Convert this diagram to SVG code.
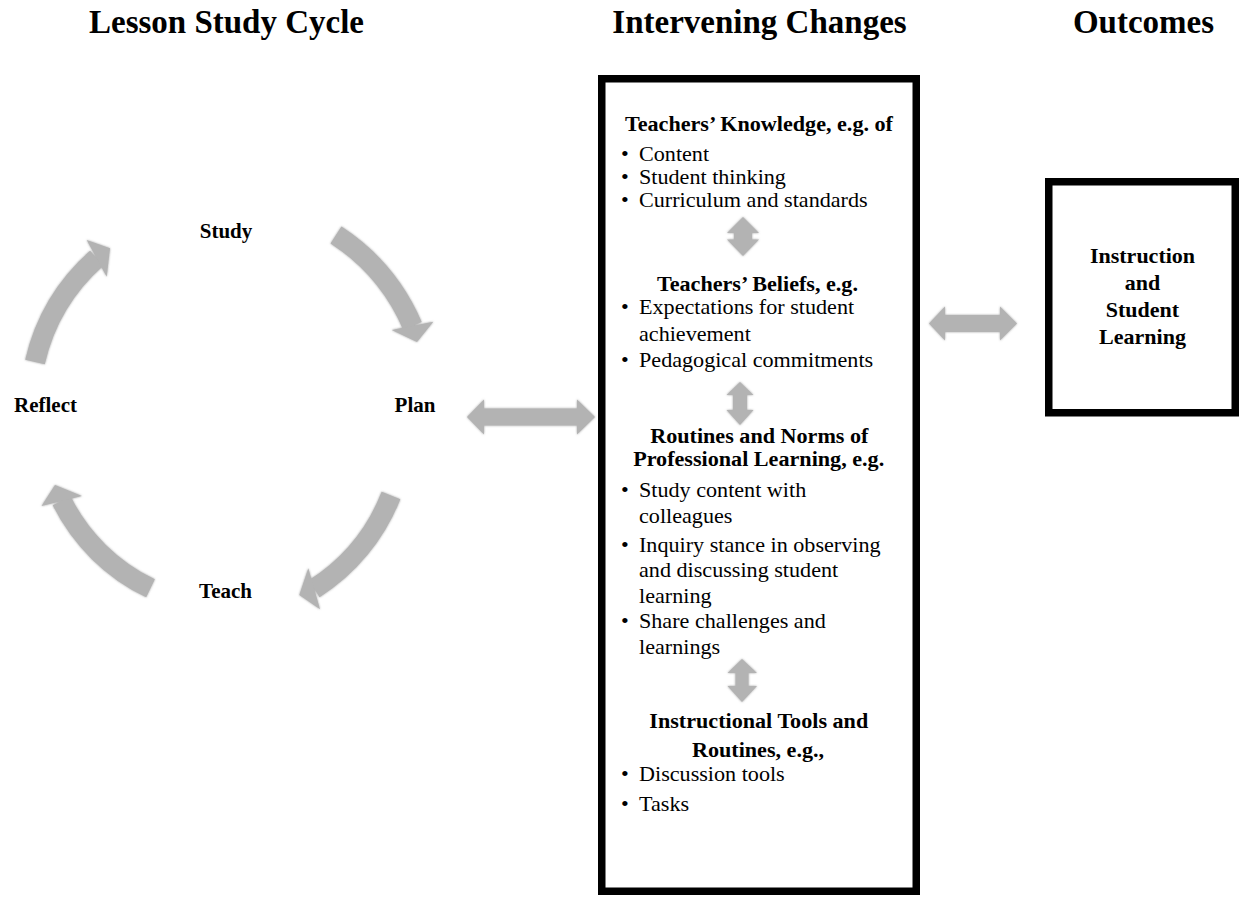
<svg xmlns="http://www.w3.org/2000/svg" width="1241" height="897" viewBox="0 0 1241 897">
<style>
.t{font-family:"Liberation Serif","Times New Roman",serif;fill:#000}
.title{font-size:33px;font-weight:bold;text-anchor:middle}
.lbl{font-size:21px;font-weight:bold;text-anchor:middle}
.h{font-size:20.5px;font-weight:bold;text-anchor:middle}
.n{font-size:20.5px}
.oh{font-size:22px;font-weight:bold;text-anchor:middle}
.box{fill:#fff;stroke:#000;stroke-width:7.5}
.band{fill:none;stroke:#b3b3b3;stroke-width:20}
.head{fill:#b3b3b3}
</style>
<defs>
<filter id="soft" x="-10%" y="-10%" width="120%" height="120%">
<feGaussianBlur in="SourceAlpha" stdDeviation="1.2" result="b"/>
<feFlood flood-color="#7a7a7a" flood-opacity="0.7"/>
<feComposite in2="b" operator="in" result="s"/>
<feMerge><feMergeNode in="s"/><feMergeNode in="SourceGraphic"/></feMerge>
</filter>
</defs>
<rect width="1241" height="897" fill="#fff"/>
<g id="titles">
<text class="t title" x="226.5" y="33">Lesson Study Cycle</text>
<text class="t title" x="759.5" y="33">Intervening Changes</text>
<text class="t title" x="1143.5" y="33">Outcomes</text>
</g>
<g id="study"><text class="t lbl" x="226" y="238">Study</text></g>
<g id="plan"><text class="t lbl" x="415" y="412">Plan</text></g>
<g id="teach"><text class="t lbl" x="225.5" y="598">Teach</text></g>
<g id="reflect"><text class="t lbl" x="45.5" y="412">Reflect</text></g>
<g id="intervening">
<rect class="box" x="601.75" y="78.75" width="314.5" height="812.5"/>
<g transform="matrix(1.08,0,0,1,-51.12,0)">
<text class="t h" x="750.1" y="131">Teachers’ Knowledge, e.g. of</text>
<text class="t n" x="622.3" y="161">•</text><text class="t n" x="639" y="161">Content</text>
<text class="t n" x="622.3" y="184">•</text><text class="t n" x="639" y="184">Student thinking</text>
<text class="t n" x="622.3" y="207">•</text><text class="t n" x="639" y="207">Curriculum and standards</text>
<text class="t h" x="748.7" y="291">Teachers’ Beliefs, e.g.</text>
<text class="t n" x="622.3" y="314.5">•</text><text class="t n" x="639" y="314.5">Expectations for student</text>
<text class="t n" x="639" y="340.7">achievement</text>
<text class="t n" x="622.3" y="366.7">•</text><text class="t n" x="639" y="366.7">Pedagogical commitments</text>
<text class="t h" x="750.4" y="443">Routines and Norms of</text>
<text class="t h" x="749.8" y="466.5">Professional Learning, e.g.</text>
<text class="t n" x="622.3" y="497.3">•</text><text class="t n" x="639" y="497.3">Study content with</text>
<text class="t n" x="639" y="523.3">colleagues</text>
<text class="t n" x="622.3" y="551.7">•</text><text class="t n" x="639" y="551.7">Inquiry stance in observing</text>
<text class="t n" x="639" y="577.3">and discussing student</text>
<text class="t n" x="639" y="603.3">learning</text>
<text class="t n" x="622.3" y="628.3">•</text><text class="t n" x="639" y="628.3">Share challenges and</text>
<text class="t n" x="639" y="654">learnings</text>
<text class="t h" x="749.9" y="727.7">Instructional Tools and</text>
<text class="t h" x="749.2" y="757">Routines, e.g.,</text>
<text class="t n" x="622.3" y="781">•</text><text class="t n" x="639" y="781">Discussion tools</text>
<text class="t n" x="622.3" y="810.7">•</text><text class="t n" x="639" y="810.7">Tasks</text>
</g>
</g>
<g id="outcomes">
<rect class="box" x="1048.75" y="181.75" width="186.5" height="231"/>
<text class="t oh" x="1142.5" y="262.7">Instruction</text>
<text class="t oh" x="1142.5" y="290">and</text>
<text class="t oh" x="1142.5" y="316.7">Student</text>
<text class="t oh" x="1142.5" y="343.5">Learning</text>
</g>
<g id="connectors" filter="url(#soft)">
<path class="band" d="M336,235 A205,205 0 0 1 412.5,326"/>
<polygon class="head" points="391.7,330 417,342 433.3,321.7"/>
<path class="band" d="M391,495.5 A195,195 0 0 1 314.2,588.8"/>
<polygon class="head" points="308.3,568.3 299.3,595 320,609.3"/>
<path class="band" d="M150.5,588.3 A192,192 0 0 1 61.7,500.9"/>
<polygon class="head" points="41.5,506 55,485 82,496"/>
<path class="band" d="M35,362 A198,198 0 0 1 96.7,258.3"/>
<polygon class="head" points="86.7,240 110,248.3 106.7,276.7"/>
<polygon class="head" points="467,417 484,399.5 484,408.5 577,408.5 577,399.5 595,417 577,434.5 577,425.5 484,425.5 484,434.5"/>
<polygon class="head" points="929,323.5 945,306.5 945,315 1000,315 1000,306.5 1017,323.5 1000,340.5 1000,332 945,332 945,340.5"/>
<polygon class="head" points="743,217 759,233 752,233 752,239.5 759,239.5 743,256 727,239.5 734,239.5 734,233 727,233"/>
<polygon class="head" points="740,382 753.5,395 747,395 747,410 753.5,410 740,425 726.5,410 733,410 733,395 726.5,395"/>
<polygon class="head" points="742,659 757,673 748.5,673 748.5,686 757,686 742,702 727.5,686 735.5,686 735.5,673 727.5,673"/>
</g>
</svg>
